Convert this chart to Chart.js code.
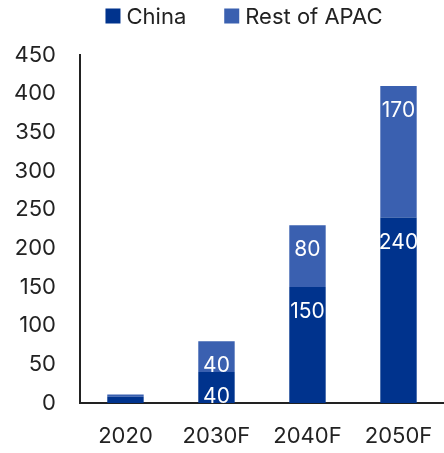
<!DOCTYPE html>
<html>
<head>
<meta charset="utf-8">
<script src="https://cdn.jsdelivr.net/npm/chart.js@4"></script>
<style>
  html, body { margin: 0; padding: 0; background: #ffffff; overflow: hidden; }
  canvas { display: block; }
</style>
</head>
<body>
<canvas id="chart" width="444" height="453"></canvas>
<script>
// Données
const categories = ['2020', '2030F', '2040F', '2050F'];
const chinaValues = [8, 40, 150, 240];
const restApacValues = [3, 40, 80, 170];
const yTicks = [0, 50, 100, 150, 200, 250, 300, 350, 400, 450];

const FONT = 'Inter, Roboto, sans-serif';
const TEXT = '#222222';

// Étiquettes blanches dans les segments, près du haut
const segmentLabels = {
    id: 'segmentLabels',
    afterDatasetsDraw(chart) {
        const ctx = chart.ctx;
        ctx.save();
        ctx.fillStyle = '#ffffff';
        ctx.font = '21px ' + FONT;
        ctx.textAlign = 'center';
        ctx.textBaseline = 'middle';
        chart.data.datasets.forEach((ds, i) => {
            const meta = chart.getDatasetMeta(i);
            meta.data.forEach((bar, j) => {
                const v = ds.data[j];
                if (v < 20) return;
                ctx.fillText(String(v), bar.x, bar.y + 25);
            });
        });
        ctx.restore();
    }
};

// Légende dessinée à la main (carré + libellé), centrée en haut
const topLegend = {
    id: 'topLegend',
    afterDraw(chart) {
        const ctx = chart.ctx;
        const box = 15, gapText = 6, gapItem = 38, cy = 16;
        ctx.save();
        ctx.font = '22px ' + FONT;
        ctx.textBaseline = 'middle';
        const items = chart.data.datasets.map(ds => ({
            text: ds.label,
            color: ds.backgroundColor,
            w: box + gapText + ctx.measureText(ds.label).width
        }));
        const total = items.reduce((s, it) => s + it.w, 0) + gapItem * (items.length - 1);
        let x = 244 - total / 2;
        items.forEach(it => {
            ctx.fillStyle = it.color;
            ctx.fillRect(x, cy - box / 2, box, box);
            ctx.fillStyle = TEXT;
            ctx.fillText(it.text, x + box + gapText, cy + 1);
            x += it.w + gapItem;
        });
        ctx.restore();
    }
};

new Chart(document.getElementById('chart'), {
    type: 'bar',
    data: {
        labels: categories,
        datasets: [
            {
                label: 'China',
                data: chinaValues,
                backgroundColor: '#00338d',
                barPercentage: 0.4,
                categoryPercentage: 1
            },
            {
                label: 'Rest of APAC',
                data: restApacValues,
                backgroundColor: '#3a60b0',
                barPercentage: 0.4,
                categoryPercentage: 1
            }
        ]
    },
    options: {
        responsive: false,
        animation: false,
        layout: { padding: { left: -10, right: 0, top: 55, bottom: -16 } },
        plugins: {
            legend: { display: false },
            tooltip: { enabled: false }
        },
        scales: {
            x: {
                stacked: true,
                grid: { display: false, drawTicks: false },
                border: { display: true, color: TEXT, width: 2 },
                ticks: {
                    color: TEXT,
                    font: { family: FONT, size: 22, lineHeight: 3 },
                    padding: 0
                }
            },
            y: {
                stacked: true,
                min: 0,
                max: 450,
                afterBuildTicks: axis => {
                    axis.ticks = yTicks.map(v => ({ value: v }));
                },
                grid: { display: false, drawTicks: false },
                border: { display: true, color: TEXT, width: 2 },
                ticks: {
                    color: TEXT,
                    font: { family: FONT, size: 22 },
                    padding: 24
                }
            }
        }
    },
    plugins: [segmentLabels, topLegend]
});
</script>
</body>
</html>
